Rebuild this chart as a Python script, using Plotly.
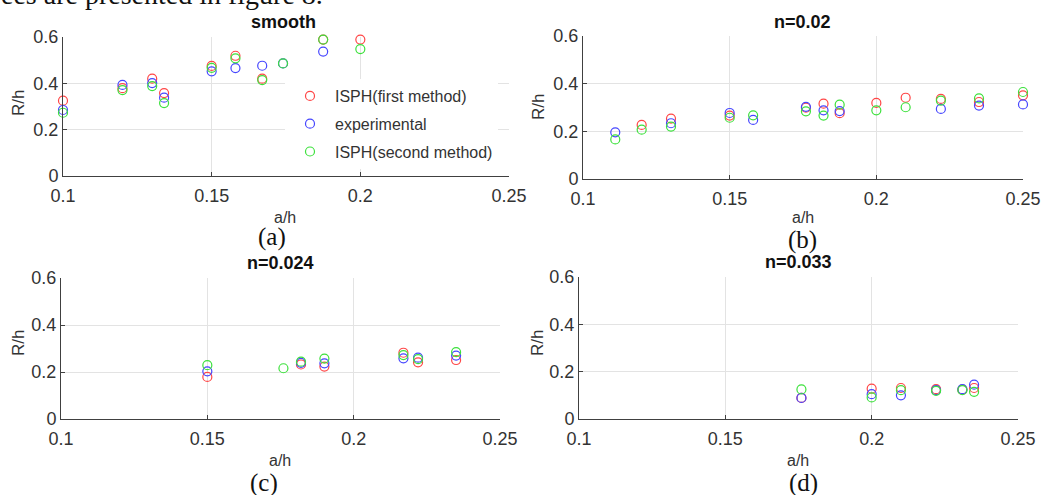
import plotly.graph_objects as go

W, H = 1051, 495

# ---- data: a/h (x) and R/h (y) for each roughness case ----
series_names = ["ISPH(first method)", "experimental", "ISPH(second method)"]
series_colors = ["rgb(255,70,70)", "rgb(70,70,255)", "rgb(60,225,60)"]

# (a) smooth
x_smooth = [0.1, 0.12, 0.13, 0.134, 0.15, 0.158, 0.167, 0.174, 0.1875, 0.2]
first_smooth = [0.325, 0.379, 0.420, 0.358, 0.475, 0.519, 0.420, None, 0.589, 0.589]
exp_smooth = [0.285, 0.393, 0.401, 0.338, 0.452, 0.466, 0.476, 0.486, 0.537, None]
second_smooth = [0.273, 0.371, 0.388, 0.315, 0.467, 0.508, 0.414, 0.486, 0.589, 0.548]

# (b) n=0.02
x_n002 = [0.111, 0.12, 0.13, 0.15, 0.158, 0.176, 0.182, 0.1875, 0.2, 0.21, 0.222, 0.235, 0.25]
first_n002 = [None, 0.227, 0.253, 0.266, None, 0.299, 0.316, 0.276, 0.319, 0.341, 0.336, 0.323, 0.351]
exp_n002 = [0.196, None, 0.234, 0.277, 0.248, 0.303, 0.288, 0.285, None, None, 0.294, 0.308, 0.313]
second_n002 = [0.166, 0.207, 0.220, 0.257, 0.267, 0.284, 0.266, 0.312, 0.288, 0.301, 0.329, 0.338, 0.365]

# (c) n=0.024
x_n0024 = [0.15, 0.176, 0.182, 0.19, 0.217, 0.222, 0.235]
first_n0024 = [0.179, None, 0.232, 0.223, 0.282, 0.241, 0.251]
exp_n0024 = [0.203, None, 0.239, 0.237, 0.258, 0.261, 0.270]
second_n0024 = [0.229, 0.216, 0.244, 0.257, 0.272, 0.255, 0.285]

# (d) n=0.033
x_n0033 = [0.176, 0.2, 0.21, 0.222, 0.231, 0.235]
first_n0033 = [0.089, 0.128, 0.131, 0.126, 0.124, 0.131]
exp_n0033 = [0.089, 0.105, 0.100, 0.122, 0.126, 0.145]
second_n0033 = [0.125, 0.091, 0.122, 0.119, 0.122, 0.115]

x_ticks = [0.1, 0.15, 0.2, 0.25]
x_ticktext = ["0.1", "0.15", "0.2", "0.25"]
y_ticks = [0, 0.2, 0.4, 0.6]
y_ticktext = ["0", "0.2", "0.4", "0.6"]

panels = [
    # title, caption, x values, (first, exp, second), pixel box (x0, x1, y0, y1)
    ("smooth", "(a)", x_smooth, (first_smooth, exp_smooth, second_smooth), (63, 509, 37, 176)),
    ("n=0.02", "(b)", x_n002, (first_n002, exp_n002, second_n002), (583, 1023, 36, 179)),
    ("n=0.024", "(c)", x_n0024, (first_n0024, exp_n0024, second_n0024), (61, 500, 278, 419)),
    ("n=0.033", "(d)", x_n0033, (first_n0033, exp_n0033, second_n0033), (579, 1018, 277, 419)),
]

# label positions in pixels: title, x-label, y-label, caption
label_pos = [
    ((283, 22), (285, 218), (18, 103), (272, 237)),
    ((802, 22), (803, 218), (538, 107), (802, 240)),
    ((280, 263), (280, 460), (18, 343), (264, 483)),
    ((798, 262), (798, 460), (537, 343), (803, 483)),
]


def px(x):
    return x / W


def py(y):
    return 1 - y / H


AXIS_COLOR = "#404040"
GRID_COLOR = "#e3e3e3"
TICK_FONT = dict(family="Liberation Sans, Arial", size=18, color="#333333")

fig = go.Figure()
layout = dict(
    width=W, height=H, autosize=False,
    margin=dict(l=0, r=0, t=0, b=0, autoexpand=False),
    paper_bgcolor="white", plot_bgcolor="white",
    showlegend=True,
    annotations=[],
)

for i, (title, caption, xs, ys_all, box) in enumerate(panels):
    n = i + 1
    xa = "xaxis" if n == 1 else f"xaxis{n}"
    ya = "yaxis" if n == 1 else f"yaxis{n}"
    xref = "x" if n == 1 else f"x{n}"
    yref = "y" if n == 1 else f"y{n}"
    x0, x1, y0, y1 = box
    layout[xa] = dict(
        domain=[px(x0), px(x1)], anchor=yref, range=[0.1, 0.25], automargin=False,
        tickvals=x_ticks, ticktext=x_ticktext, tickfont=TICK_FONT,
        ticklabelstandoff=3,
        showline=True, linecolor=AXIS_COLOR, linewidth=1, mirror=False,
        ticks="inside", ticklen=4, tickcolor=AXIS_COLOR,
        showgrid=True, gridcolor=GRID_COLOR, gridwidth=1, zeroline=False,
    )
    layout[ya] = dict(
        domain=[py(y1), py(y0)], anchor=xref, range=[0, 0.6], automargin=False,
        tickvals=y_ticks, ticktext=y_ticktext, tickfont=TICK_FONT,
        showline=True, linecolor=AXIS_COLOR, linewidth=1, mirror=False,
        ticks="inside", ticklen=4, tickcolor=AXIS_COLOR,
        showgrid=True, gridcolor=GRID_COLOR, gridwidth=1, zeroline=False,
    )
    for name, color, ys in zip(series_names, series_colors, ys_all):
        fig.add_trace(go.Scatter(
            x=xs, y=ys, mode="markers", name=name,
            xaxis=xref, yaxis=yref, cliponaxis=False,
            legendgroup=name, showlegend=(n == 1),
            marker=dict(symbol="circle-open", size=9, color=color,
                        line=dict(width=1.2, color=color)),
        ))

    (tx, ty), (axx, axy), (ryx, ryy), (cx, cy) = label_pos[i]
    layout["annotations"] += [
        dict(text=f"<b>{title}</b>", x=px(tx), y=py(ty), xref="paper", yref="paper",
             showarrow=False, xanchor="center", yanchor="middle",
             font=dict(family="Liberation Sans, Arial", size=18, color="#111111")),
        dict(text="a/h", x=px(axx), y=py(axy), xref="paper", yref="paper",
             showarrow=False, xanchor="center", yanchor="middle",
             font=dict(family="Liberation Sans, Arial", size=16, color="#333333")),
        dict(text="R/h", x=px(ryx), y=py(ryy), xref="paper", yref="paper",
             showarrow=False, xanchor="center", yanchor="middle", textangle=-90,
             font=dict(family="Liberation Sans, Arial", size=17, color="#333333")),
        dict(text=caption, x=px(cx), y=py(cy), xref="paper", yref="paper",
             showarrow=False, xanchor="center", yanchor="middle",
             font=dict(family="Liberation Serif, Times New Roman", size=25, color="#111111")),
    ]

# running text line above the figure, partly cut by the top edge
layout["annotations"].append(
    dict(text="ees are presented in figure 8.", x=px(-1), y=py(-5), xref="paper", yref="paper",
         showarrow=False, xanchor="left", yanchor="middle",
         font=dict(family="Liberation Serif, Times New Roman", size=28, color="#111111"))
)

layout["legend"] = dict(
    x=px(285), y=py(79), xanchor="left", yanchor="top",
    bgcolor="white", borderwidth=0, tracegroupgap=4, itemwidth=40,
    font=dict(family="Liberation Sans, Arial", size=16, color="#333333"),
)

fig.update_layout(**layout)
fig.write_html("out.html")
